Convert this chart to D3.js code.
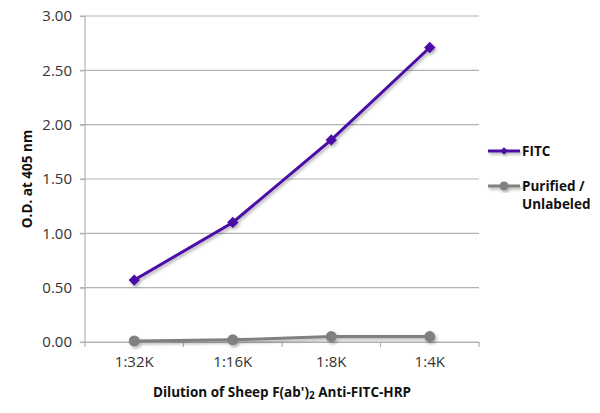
<!DOCTYPE html>
<html><head><meta charset="utf-8">
<script src="https://cdn.jsdelivr.net/npm/d3@7"></script>
<style>body{margin:0;background:#fff}svg{font-family:"Open Sans",sans-serif}</style>
</head><body><svg id="c" width="600" height="413"></svg>
<script>
const categories = ["1:32K","1:16K","1:8K","1:4K"];
const fitc = [0.57, 1.10, 1.86, 2.71];
const purified = [0.01, 0.02, 0.05, 0.05];
const yTicks = [0,0.5,1,1.5,2,2.5,3];
const seriesNames = ["FITC","Purified /|Unlabeled"];
const colors = ["#4b0fa6","#808080"];

const svg = d3.select("#c");
const m = {l:85, r:479, t:16, b:342};
const x = d3.scaleBand().domain(categories).range([m.l, m.r]);
const y = d3.scaleLinear().domain([0,3]).range([m.b, m.t]);

const defs = svg.append("defs");
const f = defs.append("filter").attr("id","sh").attr("x","-20%").attr("y","-20%").attr("width","140%").attr("height","140%");
f.append("feDropShadow").attr("dx",1.5).attr("dy",2).attr("stdDeviation",1.5).attr("flood-color","#000").attr("flood-opacity",0.3);

// gridlines
svg.append("g").selectAll("line").data(yTicks).join("line")
  .attr("x1",80).attr("x2",m.r).attr("y1",d=>y(d)).attr("y2",d=>y(d))
  .attr("stroke","#b3b3b3").attr("stroke-width",1.2);

// y axis
const ya = svg.append("g").attr("transform",`translate(${m.l},0)`)
  .call(d3.axisLeft(y).tickValues(yTicks).tickFormat(d3.format(".2f")).tickSize(5).tickPadding(8));
ya.select(".domain").attr("stroke","#b3b3b3").attr("stroke-width",1.2).attr("d",`M0,${m.t}V${m.b}`);
ya.selectAll(".tick line").attr("stroke","#b3b3b3").attr("stroke-width",1.2);
ya.selectAll("text").attr("font-size",15).attr("fill","#333").attr("font-family","Open Sans");

// x axis
const xa = svg.append("g").attr("transform",`translate(0,${m.b})`)
  .call(d3.axisBottom(x).tickSize(0).tickPadding(14));
xa.select(".domain").attr("stroke","#b3b3b3").attr("stroke-width",1.2);
xa.selectAll("text").attr("font-size",15).attr("fill","#333").attr("font-family","Open Sans");
const bounds = categories.map(c=>x(c)).concat([m.r]);
svg.append("g").selectAll("line").data(bounds).join("line")
  .attr("x1",d=>d).attr("x2",d=>d).attr("y1",m.b).attr("y2",m.b+5)
  .attr("stroke","#b3b3b3").attr("stroke-width",1.2);

const cx = c => x(c)+x.bandwidth()/2;
const line = d3.line().x((d,i)=>cx(categories[i])).y(d=>y(d));

// purified series
const gP = svg.append("g").attr("filter","url(#sh)");
gP.append("path").datum(purified).attr("d",line).attr("fill","none").attr("stroke",colors[1]).attr("stroke-width",3);
gP.selectAll("circle").data(purified).join("circle")
  .attr("cx",(d,i)=>cx(categories[i])).attr("cy",d=>y(d)).attr("r",5.5).attr("fill",colors[1]);

// fitc series
const gF = svg.append("g").attr("filter","url(#sh)");
gF.append("path").datum(fitc).attr("d",line).attr("fill","none").attr("stroke",colors[0]).attr("stroke-width",3);
const diamond = d3.symbol().type(d3.symbolSquare).size(64);
gF.selectAll("path.m").data(fitc).join("path").attr("class","m")
  .attr("transform",(d,i)=>`translate(${cx(categories[i])},${y(d)}) rotate(45)`)
  .attr("d",diamond).attr("fill",colors[0]);

// axis titles
svg.append("text").attr("transform",`translate(32,${(m.t+m.b)/2}) rotate(-90)`)
  .attr("text-anchor","middle").attr("font-size",13.5).attr("font-weight","bold").attr("fill","#111")
  .text("O.D. at 405 nm");
const xt = svg.append("text").attr("x",(m.l+m.r)/2).attr("y",397)
  .attr("text-anchor","middle").attr("font-size",13.5).attr("font-weight","bold").attr("fill","#111");
xt.append("tspan").text("Dilution of Sheep F(ab')");
xt.append("tspan").attr("font-size",10).attr("dy",2).text("2");
xt.append("tspan").attr("dy",-2).text(" Anti-FITC-HRP");

// legend
const lg = svg.append("g");
const ly = [151, 186];
const lmark = d3.symbol().type(d3.symbolSquare).size(30);
seriesNames.forEach((n,i)=>{
  const g = lg.append("g").attr("filter","url(#sh)");
  g.append("line").attr("x1",488).attr("x2",520).attr("y1",ly[i]).attr("y2",ly[i]).attr("stroke",colors[i]).attr("stroke-width",3);
  if(i===0) g.append("path").attr("transform",`translate(504,${ly[i]}) rotate(45)`).attr("d",lmark).attr("fill",colors[i]);
  else g.append("circle").attr("cx",504).attr("cy",ly[i]).attr("r",4.5).attr("fill",colors[i]);
  const t = lg.append("text").attr("x",522).attr("y",ly[i]+5).attr("font-size",13.5).attr("font-weight","bold").attr("fill","#111");
  n.split("|").forEach((s,j)=>t.append("tspan").attr("x",522).attr("dy",j?18:0).text(s));
});
</script></body></html>
